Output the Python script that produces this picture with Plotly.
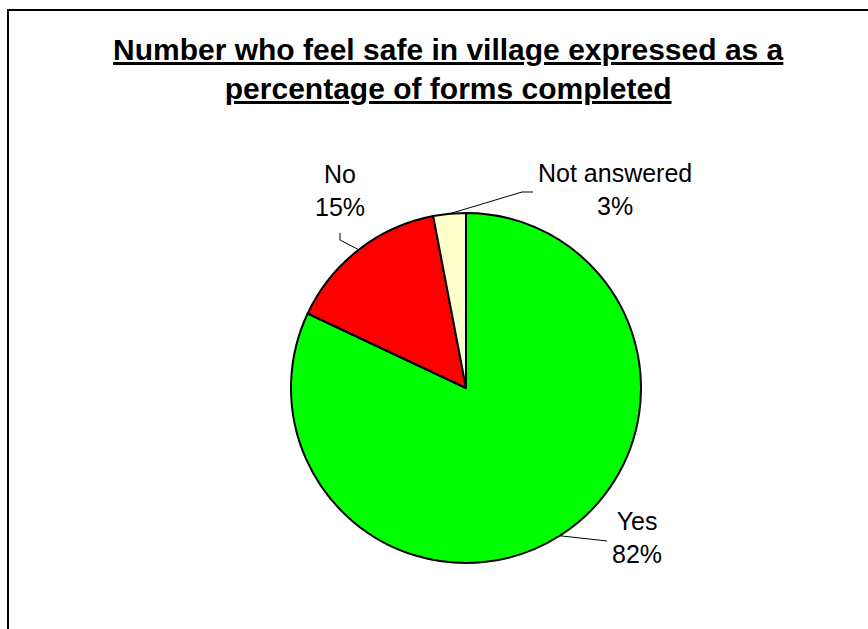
import math

import plotly.graph_objects as go

# ---------------------------------------------------------------------------
# Data
# ---------------------------------------------------------------------------

labels = ["Yes", "No", "Not answered"]
values = [82, 15, 3]
colors = ["#00FF00", "#FF0000", "#FFFFCC"]

title_lines = [
    "Number who feel safe in village expressed as a",
    "percentage of forms completed",
]

W, H = 868, 629
FONT = "Arial, Liberation Sans, sans-serif"

# pie geometry (pixels)
cx, cy, r = 466, 388, 175

# label block centres and leader-line elbows (pixels)
label_pos = {"Yes": (637, 537), "No": (340, 191), "Not answered": (615, 190)}
elbows = {
    "Yes": [(607, 541)],
    "No": [(340, 240), (340, 233)],
    "Not answered": [(522, 192), (533, 192)],
}


def px(x, y):
    return x / W, 1 - y / H


fig = go.Figure(go.Pie(
    labels=labels,
    values=values,
    marker=dict(colors=colors, line=dict(color="black", width=2)),
    sort=False,
    direction="clockwise",
    rotation=0,
    textinfo="none",
    hoverinfo="label+percent",
    showlegend=False,
    domain=dict(
        x=[(cx - r) / W, (cx + r) / W],
        y=[1 - (cy + r) / H, 1 - (cy - r) / H],
    ),
))

# ---------------------------------------------------------------------------
# Labels with leader lines
# ---------------------------------------------------------------------------

total = sum(values)
annotations = []
shapes = []
cum = 0
for lab, val in zip(labels, values):
    mid = (cum + val / 2) / total * 2 * math.pi
    cum += val
    ex = cx + r * math.sin(mid)
    ey = cy - r * math.cos(mid)
    pts = [(ex, ey)] + elbows[lab]
    path = "M " + " L ".join(f"{px(x, y)[0]},{px(x, y)[1]}" for x, y in pts)
    shapes.append(dict(type="path", xref="paper", yref="paper", path=path,
                       line=dict(color="black", width=1)))
    lx, ly = px(*label_pos[lab])
    annotations.append(dict(
        x=lx, y=ly, xref="paper", yref="paper",
        text=f"{lab}<br>{round(val / total * 100)}%",
        showarrow=False, xanchor="center", yanchor="middle",
        font=dict(family=FONT, size=25, color="black"),
    ))

# title
annotations.append(dict(
    x=px(449, 0)[0], y=px(0, 69)[1], xref="paper", yref="paper",
    text="<br>".join(f"<b><u>{t}</u></b>" for t in title_lines),
    showarrow=False, xanchor="center", yanchor="middle",
    font=dict(family=FONT, size=30, color="black"),
))

# chart-area frame (extends beyond the window on the right and bottom)
shapes.append(dict(
    type="rect", xref="paper", yref="paper",
    x0=px(8, 0)[0], x1=1.05, y0=-0.05, y1=px(0, 10)[1],
    line=dict(color="black", width=2),
))

fig.update_layout(
    width=W,
    height=H,
    margin=dict(l=0, r=0, t=0, b=0),
    paper_bgcolor="white",
    plot_bgcolor="white",
    annotations=annotations,
    shapes=shapes,
)

# drop the browser's default 8px body margin so the figure sits at (0, 0)
fig.write_html(
    "out.html",
    config={"displayModeBar": False},
    post_script="document.body.style.margin = '0';",
)
